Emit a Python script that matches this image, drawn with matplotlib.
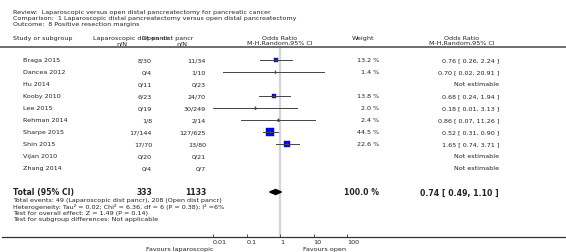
import numpy as np
import matplotlib
matplotlib.use('Agg')
import matplotlib.pyplot as plt

# data
studies = ['Braga 2015', 'Dancea 2012', 'Hu 2014', 'Kooby 2010', 'Lee 2015',
           'Rehman 2014', 'Sharpe 2015', 'Shin 2015', 'Vijan 2010', 'Zhang 2014']
lap_nN = ['8/30', '0/4', '0/11', '6/23', '0/19', '1/8', '17/144', '17/70', '0/20', '0/4']
open_nN = ['11/34', '1/10', '0/23', '24/70', '30/249', '2/14', '127/625', '13/80', '0/21', '0/7']
weight = [13.2, 1.4, np.nan, 13.8, 2.0, 2.4, 44.5, 22.6, np.nan, np.nan]
odds = [0.76, 0.70, np.nan, 0.68, 0.18, 0.86, 0.52, 1.65, np.nan, np.nan]
ci_lo = [0.26, 0.02, np.nan, 0.24, 0.01, 0.07, 0.31, 0.74, np.nan, np.nan]
ci_hi = [2.24, 20.91, np.nan, 1.94, 3.13, 11.26, 0.90, 3.71, np.nan, np.nan]

total_lap = 333
total_open = 1133
total_or = 0.74
total_lo = 0.49
total_hi = 1.10

ticks = [0.01, 0.1, 1, 10, 100]
tick_labels = ['0.01', '0.1', '1', '10', '100']

header = ['Review:  Laparoscopic versus open distal pancreatectomy for pancreatic cancer',
          'Comparison:  1 Laparoscopic distal pancreatectomy versus open distal pancreatectomy',
          'Outcome:  8 Positive resection margins']
footer = ['Total events: 49 (Laparoscopic dist pancr), 208 (Open dist pancr)',
          'Heterogeneity: Tau\u00b2 = 0.02; Chi\u00b2 = 6.36, df = 6 (P = 0.38); I\u00b2 =6%',
          'Test for overall effect: Z = 1.49 (P = 0.14)',
          'Test for subgroup differences: Not applicable']

W, H = 566, 253
fs = 4.6
col = '#222222'

fig = plt.figure(figsize=(W / 100, H / 100), dpi=100)
ax = fig.add_axes([0, 0, 1, 1])
ax.set_xlim(0, W)
ax.set_ylim(H, 0)
ax.axis('off')

# header
for i, s in enumerate(header):
    ax.text(13, 12 + 6 * i, s, fontsize=fs, color=col, va='center')
ax.text(13, 38, 'Study or subgroup', fontsize=fs, color=col, va='center')
ax.text(93, 38, 'Laparoscopic dist pancr', fontsize=fs, color=col, va='center')
ax.text(122, 43.5, 'n/N', fontsize=fs, color=col, va='center', ha='center')
ax.text(142, 38, 'Open dist pancr', fontsize=fs, color=col, va='center')
ax.text(182, 43.5, 'n/N', fontsize=fs, color=col, va='center', ha='center')
ax.text(280, 38, 'Odds Ratio', fontsize=fs, color=col, va='center', ha='center')
ax.text(280, 43.5, 'M-H,Random,95% CI', fontsize=fs, color=col, va='center', ha='center')
ax.text(363, 38, 'Weight', fontsize=fs, color=col, va='center', ha='center')
ax.text(462, 38, 'Odds Ratio', fontsize=fs, color=col, va='center', ha='center')
ax.text(462, 43.5, 'M-H,Random,95% CI', fontsize=fs, color=col, va='center', ha='center')
ax.axhline(48, color='#555555', lw=1.2)
ax.plot([2, W], [237.6, 237.6], color='#333333', lw=0.9)

row_y = 60.7 + 12 * np.arange(len(studies))

for i in range(len(studies)):
    y = row_y[i]
    ax.text(23, y, studies[i], fontsize=fs, color=col, va='center')
    ax.text(152, y, lap_nN[i], fontsize=fs, color=col, va='center', ha='right')
    ax.text(206, y, open_nN[i], fontsize=fs, color=col, va='center', ha='right')
    if np.isnan(odds[i]):
        ax.text(499, y, 'Not estimable', fontsize=fs, color=col, va='center', ha='right')
    else:
        ax.text(379, y, '%.1f %%' % weight[i], fontsize=fs, color=col, va='center', ha='right')
        ax.text(499, y, '%.2f [ %.2f, %.2f ]' % (odds[i], ci_lo[i], ci_hi[i]),
                fontsize=fs, color=col, va='center', ha='right')

ty = 193
fb = 5.6
ax.text(13, ty, 'Total (95% CI)', fontsize=fb, color=col, va='center', weight='bold')
ax.text(152, ty, str(total_lap), fontsize=fb, color=col, va='center', ha='right', weight='bold')
ax.text(206, ty, str(total_open), fontsize=fb, color=col, va='center', ha='right', weight='bold')
ax.text(379, ty, '100.0 %', fontsize=fb, color=col, va='center', ha='right', weight='bold')
ax.text(499, ty, '%.2f [ %.2f, %.2f ]' % (total_or, total_lo, total_hi),
        fontsize=fb, color=col, va='center', ha='right', weight='bold')
for i, s in enumerate(footer):
    ax.text(13, 200.7 + 6.4 * i, s, fontsize=fs, color=col, va='center')

# forest plot part
x0, x1 = 213, 347
yb, yt = 237.6, 49
axf = fig.add_axes([x0 / W, (H - yb) / H, (x1 - x0) / W, (yb - yt) / H])
axf.patch.set_alpha(0)
axf.set_xscale('log')
axf.set_xlim(0.01, 100)
axf.set_ylim(yb, yt)
for sp in axf.spines.values():
    sp.set_visible(False)
axf.axvline(1, color='#d4d4d4', lw=1.6, zorder=0)
axf.set_yticks([])
axf.set_xticks(ticks)
axf.set_xticklabels(tick_labels)
axf.minorticks_off()
axf.tick_params(axis='x', direction='in', length=2.5, width=0.6, color='#333333',
                labelsize=fs, labelcolor=col, pad=1.5)
plt.setp(axf.get_xticklabels(), ha='left')

for i in range(len(studies)):
    if np.isnan(odds[i]):
        continue
    y = row_y[i]
    side = 1.1 * np.sqrt(weight[i]) * 0.72
    axf.plot(odds[i], y, marker='s', ms=side, color='#0000ff', mec='#0000ff', mew=0.3, zorder=2)
    axf.plot([ci_lo[i], ci_hi[i]], [y, y], color='#444444', lw=0.7, zorder=3)
    axf.plot([odds[i], odds[i]], [y - 1.5, y + 1.5], color='#444444', lw=0.5, zorder=3)

axf.fill([total_lo, total_or, total_hi, total_or], [ty, ty - 2.5, ty, ty + 2.5],
         color='black', zorder=3)

ax.text(213, 249.5, 'Favours laparoscopic', fontsize=fs, color=col, va='center', ha='right')
ax.text(303, 249.5, 'Favours open', fontsize=fs, color=col, va='center', ha='left')

fig.savefig('out.png', dpi=100)
